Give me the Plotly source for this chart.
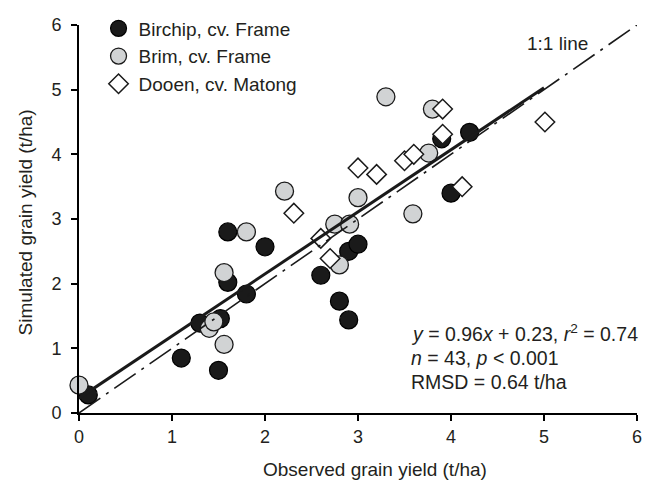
import plotly.graph_objects as go

# ---- data ----
birchip_x = [0.1, 1.1, 1.3, 1.5, 1.52, 1.6, 1.6, 1.8, 2.0, 2.6, 2.8, 2.9, 2.9, 3.0, 3.9, 4.0, 4.2]
birchip_y = [0.28, 0.85, 1.39, 0.66, 1.46, 2.02, 2.80, 1.84, 2.57, 2.13, 1.73, 1.44, 2.50, 2.61, 4.24, 3.40, 4.34]

brim_x = [0.0, 1.4, 1.45, 1.56, 1.56, 1.8, 2.21, 2.75, 2.8, 2.91, 3.0, 3.3, 3.59, 3.76, 3.8]
brim_y = [0.43, 1.31, 1.41, 1.06, 2.17, 2.80, 3.43, 2.92, 2.29, 2.92, 3.33, 4.89, 3.08, 4.02, 4.70]

dooen_x = [2.31, 2.6, 2.7, 3.0, 3.2, 3.5, 3.6, 3.91, 3.91, 4.12, 5.01]
dooen_y = [3.09, 2.70, 2.39, 3.79, 3.69, 3.90, 4.00, 4.70, 4.31, 3.50, 4.50]

series_names = ["Birchip, cv. Frame", "Brim, cv. Frame", "Dooen, cv. Matong"]

fit_slope = 0.96
fit_intercept = 0.23
fit_x = [0, 5]
one_to_one = [0, 6]

tick_vals = [0, 1, 2, 3, 4, 5, 6]

FONT = "Liberation Sans, Arial, Helvetica, sans-serif"
TXT = "#231f20"

fig = go.Figure()

fig.add_trace(go.Scatter(
    x=birchip_x, y=birchip_y, mode="markers", name=series_names[0],
    marker=dict(symbol="circle", size=18, color="#1a1a1a",
                line=dict(color="#000000", width=1.2)),
    cliponaxis=False))
fig.add_trace(go.Scatter(
    x=brim_x, y=brim_y, mode="markers", name=series_names[1],
    marker=dict(symbol="circle", size=18, color="#d1d3d4",
                line=dict(color="#1a1a1a", width=1.3)),
    cliponaxis=False))
fig.add_trace(go.Scatter(
    x=dooen_x, y=dooen_y, mode="markers", name=series_names[2],
    marker=dict(symbol="diamond", size=15, color="#ffffff",
                line=dict(color="#1a1a1a", width=1.5)),
    cliponaxis=False))

# regression line
fig.add_trace(go.Scatter(
    x=fit_x, y=[fit_slope * v + fit_intercept for v in fit_x],
    mode="lines", line=dict(color="#1a1a1a", width=3), showlegend=False))
# 1:1 line
fig.add_trace(go.Scatter(
    x=one_to_one, y=one_to_one, mode="lines",
    line=dict(color="#1a1a1a", width=1.6, dash="26px,7px,3px,7px"),
    showlegend=False))

axis_common = dict(
    range=[0, 6], tickvals=tick_vals, ticktext=[str(v) for v in tick_vals],
    showline=True, linecolor="#000000", linewidth=2,
    ticks="outside", ticklen=6, tickwidth=2, tickcolor="#000000",
    showgrid=False, zeroline=False,
    tickfont=dict(family=FONT, size=18, color=TXT),
)

fig.update_layout(
    width=651, height=484,
    margin=dict(l=79, r=9, t=17, b=71),
    paper_bgcolor="white", plot_bgcolor="white",
    xaxis=dict(**axis_common),
    yaxis=dict(**axis_common, ticklabelstandoff=6),
    showlegend=True,
    legend=dict(x=0.035, y=1.04, xanchor="left", yanchor="top",
                font=dict(family=FONT, size=19, color=TXT),
                bgcolor="rgba(0,0,0,0)", tracegroupgap=0),
    annotations=[
        dict(text="Observed grain yield (t/ha)", xref="paper", yref="paper",
             x=(377 - 79) / 562.7, y=-(471 - 413.3) / 396.6,
             xanchor="center", yanchor="middle", showarrow=False,
             font=dict(family=FONT, size=19, color=TXT)),
        dict(text="Simulated grain yield (t/ha)", xref="paper", yref="paper",
             x=-(79 - 25) / 562.7, y=(413.3 - 218) / 396.6, textangle=-90,
             xanchor="center", yanchor="middle", showarrow=False,
             font=dict(family=FONT, size=19, color=TXT)),
        dict(text="1:1 line", x=5.146, y=5.72, xref="x", yref="y",
             xanchor="center", yanchor="middle", showarrow=False,
             font=dict(family=FONT, size=19, color=TXT)),
        dict(text="<i>y</i> = 0.96<i>x</i> + 0.23, <i>r</i><sup>2</sup> = 0.74",
             x=3.547, y=1.234, xref="x", yref="y", xanchor="left", yanchor="middle",
             showarrow=False, font=dict(family=FONT, size=19.5, color=TXT)),
        dict(text="<i>n</i> = 43, <i>p</i> < 0.001",
             x=3.547, y=0.856, xref="x", yref="y", xanchor="left", yanchor="middle",
             showarrow=False, font=dict(family=FONT, size=19.5, color=TXT)),
        dict(text="RMSD = 0.64 t/ha",
             x=3.547, y=0.478, xref="x", yref="y", xanchor="left", yanchor="middle",
             showarrow=False, font=dict(family=FONT, size=19.5, color=TXT)),
    ],
)

fig.write_html("out.html")
